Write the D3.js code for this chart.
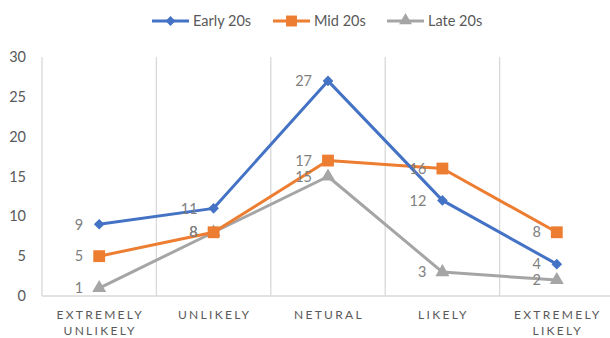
<!DOCTYPE html>
<html>
<head>
<meta charset="utf-8">
<script src="https://cdn.jsdelivr.net/npm/d3@7"></script>
<style>
  html, body { margin: 0; padding: 0; background: #fff; }
  svg { display: block; font-family: Lato, "Open Sans", sans-serif; }
</style>
</head>
<body>
<svg id="chart" width="610" height="338"></svg>
<script>
// Survey responses by age group
const categories = [["EXTREMELY", "UNLIKELY"], ["UNLIKELY"], ["NETURAL"], ["LIKELY"], ["EXTREMELY", "LIKELY"]];
const seriesNames = ["Early 20s", "Mid 20s", "Late 20s"];
const earlyValues = [9, 11, 27, 12, 4];
const midValues = [5, 8, 17, 16, 8];
const lateValues = [1, 8, 15, 3, 2];
const yTicks = [0, 5, 10, 15, 20, 25, 30];

const colors = ["#4472C4", "#ED7D31", "#A5A5A5"];
const symbols = [d3.symbolDiamond2, d3.symbolSquare, d3.symbolTriangle];
const symbolSizes = [72, 140, 85];
const series = [earlyValues, midValues, lateValues].map((values, i) => ({
  name: seriesNames[i], values, color: colors[i], symbol: symbols[i], size: symbolSizes[i]
}));

const svg = d3.select("#chart");
const plotLeft = 42, plotRight = 614, plotTop = 57, plotBottom = 296;

const x = d3.scaleBand().domain(d3.range(categories.length)).range([plotLeft, plotRight]);
const y = d3.scaleLinear().domain([0, 30]).range([plotBottom, plotTop]);
const textColor = "#595959";
const gridColor = "#d9d9d9";

// vertical category dividers
const g = svg.append("g");
g.selectAll("line.grid")
  .data(d3.range(categories.length + 1))
  .join("line")
  .attr("x1", i => plotLeft + i * x.bandwidth())
  .attr("x2", i => plotLeft + i * x.bandwidth())
  .attr("y1", plotTop).attr("y2", plotBottom)
  .attr("stroke", gridColor).attr("stroke-width", 1.3);

// baseline
g.append("line")
  .attr("x1", plotLeft).attr("x2", 610).attr("y1", plotBottom).attr("y2", plotBottom)
  .attr("stroke", gridColor).attr("stroke-width", 1.6);

// y axis labels
const yAxis = d3.axisLeft(y).tickValues(yTicks).tickSize(0).tickPadding(16);
const ya = svg.append("g").attr("transform", `translate(${plotLeft},0)`).call(yAxis);
ya.select(".domain").remove();
ya.selectAll("text").attr("fill", textColor).style("font-size", "14.5px")
  .style("font-family", "Lato, sans-serif");

// category labels
const xa = svg.append("g");
categories.forEach((lines, i) => {
  const t = xa.append("text")
    .attr("x", x(i) + x.bandwidth() / 2 + 1)
    .attr("y", 319)
    .attr("text-anchor", "middle")
    .attr("fill", textColor)
    .style("font-size", "12px")
    .style("letter-spacing", "2.3px");
  lines.forEach((ln, j) => {
    t.append("tspan").attr("x", x(i) + x.bandwidth() / 2 + 1).attr("dy", j === 0 ? 0 : 16).text(ln);
  });
});

const cx = i => x(i) + x.bandwidth() / 2;
const line = d3.line().x((d, i) => cx(i)).y(d => y(d));

// lines (drawn bottom to top: grey, orange, blue)
series.slice().reverse().forEach(s => {
  svg.append("path").datum(s.values)
    .attr("d", line).attr("fill", "none")
    .attr("stroke", s.color).attr("stroke-width", 3)
    .attr("stroke-linejoin", "round");
  svg.append("g").selectAll("path")
    .data(s.values).join("path")
    .attr("transform", (d, i) => `translate(${cx(i)},${y(d)})`)
    .attr("d", d3.symbol().type(s.symbol).size(s.size))
    .attr("fill", s.color);
});

// data labels to the left of each marker
series.forEach(s => {
  svg.append("g").selectAll("text")
    .data(s.values).join("text")
    .attr("x", (d, i) => cx(i) - 16)
    .attr("y", d => y(d))
    .attr("dy", "0.36em")
    .attr("text-anchor", "end")
    .attr("fill", "#7f7f7f")
    .style("font-size", "14.5px")
    .text(d => d);
});

// legend
const legendX = [152, 273, 387];
const leg = svg.append("g");
series.forEach((s, i) => {
  const lx = legendX[i];
  leg.append("line").attr("x1", lx).attr("x2", lx + 37).attr("y1", 21).attr("y2", 21)
    .attr("stroke", s.color).attr("stroke-width", 3);
  leg.append("path")
    .attr("transform", `translate(${lx + 18.5},${21 + (s.symbol === d3.symbolTriangle ? -0.5 : 0)})`)
    .attr("d", d3.symbol().type(s.symbol).size(s.size * 0.85))
    .attr("fill", s.color);
  leg.append("text").attr("x", lx + 41).attr("y", 21).attr("dy", "0.36em")
    .attr("fill", textColor).style("font-size", "14.5px").text(s.name);
});
</script>
</body>
</html>
